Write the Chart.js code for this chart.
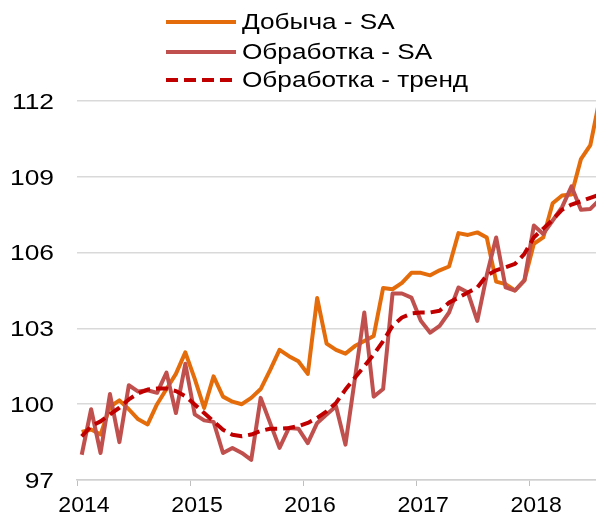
<!DOCTYPE html>
<html><head><meta charset="utf-8">
<script src="https://cdn.jsdelivr.net/npm/chart.js@4/dist/chart.umd.min.js"></script>
<style>
html,body{margin:0;padding:0;background:#fff;}
#wrap{position:relative;width:596px;height:514px;overflow:hidden;}
#c{position:absolute;left:0;top:0;}
#legend{position:absolute;left:0;top:0;width:596px;height:100px;font-family:"Liberation Sans",Arial,sans-serif;font-size:22px;color:#000;}
.row{position:absolute;left:166px;height:29px;display:flex;align-items:center;white-space:nowrap;}
.row svg{margin-right:6px;flex:none;}
.row span{display:inline-block;transform:scaleX(1.19);transform-origin:0 50%;}
</style></head>
<body>
<div id="wrap"><canvas id="c" width="596" height="514"></canvas><div id="legend"></div></div>
<script>
// Months Jan 2014 .. Aug 2018
const categories = [
 '2014-01','2014-02','2014-03','2014-04','2014-05','2014-06','2014-07','2014-08','2014-09','2014-10','2014-11','2014-12',
 '2015-01','2015-02','2015-03','2015-04','2015-05','2015-06','2015-07','2015-08','2015-09','2015-10','2015-11','2015-12',
 '2016-01','2016-02','2016-03','2016-04','2016-05','2016-06','2016-07','2016-08','2016-09','2016-10','2016-11','2016-12',
 '2017-01','2017-02','2017-03','2017-04','2017-05','2017-06','2017-07','2017-08','2017-09','2017-10','2017-11','2017-12',
 '2018-01','2018-02','2018-03','2018-04','2018-05','2018-06','2018-07','2018-08'
];
const yearLabels = ['2014','2015','2016','2017','2018'];
const yTicks = [97,100,103,106,109,112];

const dobychaSA = [
 98.9, 99.0, 98.8, 99.9, 100.15, 99.8, 99.4, 99.2, 100.0, 100.6, 101.2, 102.05,
 101.0, 99.85, 101.1, 100.3, 100.1, 100.0, 100.25, 100.6, 101.35, 102.15, 101.9, 101.7,
 101.2, 104.2, 102.4, 102.15, 102.0, 102.3, 102.5, 102.7, 104.6, 104.55, 104.8, 105.2,
 105.2, 105.1, 105.3, 105.45, 106.77, 106.7, 106.8, 106.6, 104.85, 104.75, 104.5, 104.9,
 106.35, 106.6, 107.95, 108.26, 108.3, 109.7, 110.25, 112.1
];
const obrabotkaSA = [
 98.0, 99.8, 98.07, 100.4, 98.5, 100.75, 100.5, 100.55, 100.45, 101.25, 99.65, 101.6,
 99.6, 99.36, 99.3, 98.07, 98.27, 98.07, 97.8, 100.25, 99.26, 98.27, 99.06, 99.03,
 98.46, 99.26, 99.59, 99.92, 98.4, 101.0, 103.63, 100.3, 100.6, 104.38, 104.38, 104.22,
 103.3, 102.83, 103.1, 103.63, 104.62, 104.42, 103.3, 105.1, 106.6, 104.62, 104.5, 104.9,
 107.07, 106.74, 107.27, 107.8, 108.62, 107.7, 107.73, 108.1
];
const obrabotkaTrend = [
 98.73, 99.13, 99.32, 99.6, 99.86, 100.19, 100.43, 100.58, 100.62, 100.62, 100.52, 100.32,
 99.99, 99.65, 99.32, 98.99, 98.79, 98.73, 98.8, 98.94, 99.03, 99.03, 99.06, 99.13,
 99.26, 99.46, 99.72, 100.05, 100.58, 101.05, 101.5, 101.97, 102.5, 103.1, 103.43, 103.59,
 103.63, 103.63, 103.7, 104.02, 104.22, 104.42, 104.62, 105.1, 105.3, 105.42, 105.55, 105.95,
 106.6, 106.95, 107.3, 107.7, 107.9, 108.03, 108.17, 108.3
];
const seriesNames = ['Добыча - SA','Обработка - SA','Обработка - тренд'];
const seriesColors = ['#E46C0A','#C0504D','#C00000'];
const seriesDash = [[],[],[12,6]];
const seriesValues = [dobychaSA, obrabotkaSA, obrabotkaTrend];

const toPoints = arr => arr.map((v,i)=>({x:i, y:v}));
const FONT = "'Liberation Sans', Arial, sans-serif";

const datasets = seriesValues.map((vals,k)=>({
  label: seriesNames[k],
  data: toPoints(vals),
  borderColor: seriesColors[k],
  backgroundColor: seriesColors[k],
  borderWidth: 4,
  borderDash: seriesDash[k],
  pointRadius: 0,
  tension: 0,
  borderJoinStyle: 'round',
  borderCapStyle: 'butt',
  order: 2 - k
}));

// tick labels drawn slightly widened, as in the reference
const stretchedLabels = {
  id: 'stretchedLabels',
  afterDraw(chart) {
    const ctx = chart.ctx;
    const xs = chart.scales.x, ys = chart.scales.y;
    ctx.save();
    ctx.fillStyle = '#000';
    ctx.font = '22px ' + FONT;
    ctx.textBaseline = 'alphabetic';
    ctx.textAlign = 'right';
    yTicks.forEach(v => {
      const py = ys.getPixelForValue(v);
      ctx.save(); ctx.translate(54, py + 7.8); ctx.scale(1.2, 1); ctx.fillText(String(v), 0, 0); ctx.restore();
    });
    ctx.textAlign = 'center';
    yearLabels.forEach((lab, i) => {
      const px = xs.getPixelForValue(-0.5 + 12 * i) + 7;
      ctx.save(); ctx.translate(px, 512); ctx.scale(1.05, 1); ctx.fillText(lab, 0, 0); ctx.restore();
    });
    ctx.restore();
  }
};

new Chart(document.getElementById('c'), {
  type: 'line',
  data: { datasets },
  plugins: [stretchedLabels],
  options: {
    responsive: false,
    animation: false,
    devicePixelRatio: 1,
    layout: { padding: { top: 101, right: 0, left: 0, bottom: 0 } },
    plugins: { legend: { display: false }, tooltip: { enabled: false } },
    scales: {
      x: {
        type: 'linear',
        min: -0.5,
        max: 54.6,
        afterBuildTicks: s => { s.ticks = yearLabels.map((y,i)=>({value: -0.5 + 12*i})); },
        afterFit: s => { s.height = 34; },
        ticks: { display: false },
        grid: { drawOnChartArea: false, drawTicks: true, tickLength: 6, color: '#BFBFBF', lineWidth: 1 },
        border: { display: true, color: '#D0D0D0', width: 1.5 }
      },
      y: {
        min: 97,
        max: 112,
        afterBuildTicks: s => { s.ticks = yTicks.map(v=>({value: v})); },
        afterFit: s => { s.width = 77; },
        ticks: { display: false },
        grid: { drawTicks: false, color: '#D9D9D9', lineWidth: 1.5 },
        border: { display: false }
      }
    }
  }
});

// legend
const leg = document.getElementById('legend');
const rowCenters = [22, 51.5, 80];
seriesNames.forEach((name,k)=>{
  const row = document.createElement('div');
  row.className = 'row';
  row.style.top = (rowCenters[k] - 14.5) + 'px';
  const dash = seriesDash[k].length ? `stroke-dasharray="${seriesDash[k].join(',')}"` : '';
  row.innerHTML = `<svg width="70" height="8"><line x1="0" y1="4" x2="70" y2="4" stroke="${seriesColors[k]}" stroke-width="4" ${dash}/></svg><span>${name}</span>`;
  leg.appendChild(row);
});
</script>
</body></html>
